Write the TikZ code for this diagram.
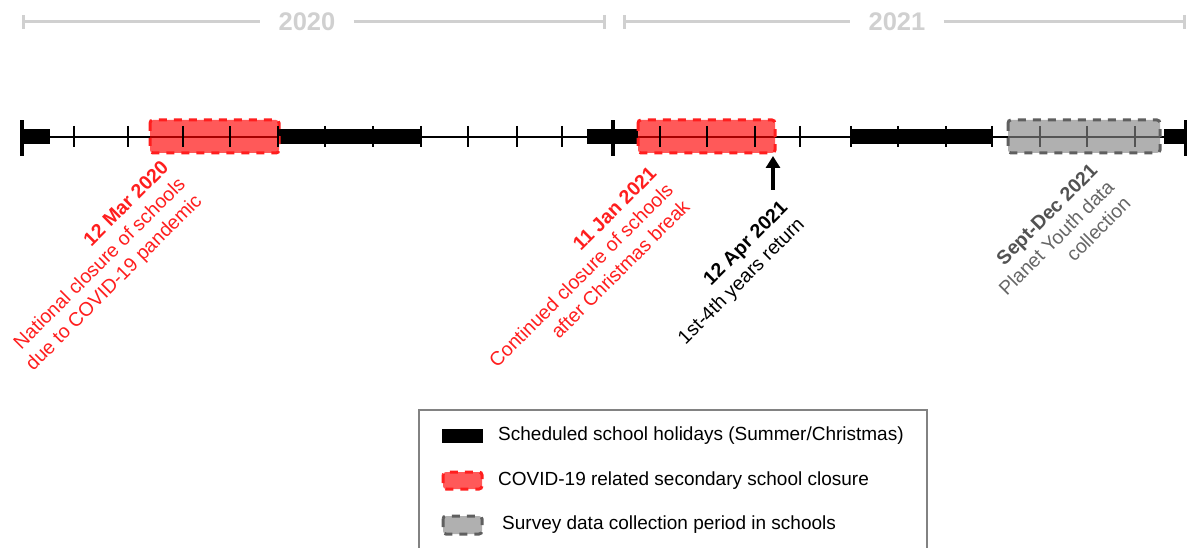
\documentclass[tikz,border=0pt]{standalone}
\usepackage{fontspec}
\setmainfont{Liberation Sans}
\usetikzlibrary{arrows.meta}
\definecolor{closurered}{RGB}{255,30,30}
\definecolor{surveygray}{RGB}{95,95,95}
\definecolor{surveyfill}{RGB}{132,132,132}
\definecolor{yeargray}{RGB}{208,208,208}
\definecolor{framegray}{RGB}{130,130,130}
\begin{document}
\begin{tikzpicture}[
    x=1pt, y=-1pt,
    yearline/.style={draw=yeargray, line width=3pt},
    yearlabel/.style={text=yeargray, font=\fontsize{25.5}{28}\selectfont\bfseries, inner xsep=18pt},
    axis/.style={line width=2.5pt},
    monthtick/.style={line width=2pt},
    yearbar/.style={line width=4pt},
    closure/.style={draw=closurered, line width=3pt, dash pattern=on 8pt off 7pt,
        rounded corners=3pt, fill=red, fill opacity=0.65},
    survey/.style={draw=surveygray, line width=3pt, dash pattern=on 8pt off 7pt,
        rounded corners=3pt, fill=surveyfill, fill opacity=0.64},
    evlabel/.style={rotate=45, anchor=north east, align=right, inner sep=0pt,
        font=\fontsize{19.5}{23.5}\selectfont},
    legendtext/.style={anchor=west, inner sep=0pt, font=\fontsize{19}{22}\selectfont}
    ]
    \useasboundingbox (0,0) rectangle (1187,548);

    % years on top
    \node[yearlabel] (y2020) at (307,22) {2020};
    \node[yearlabel] (y2021) at (897,22) {2021};
    \coordinate (s2020) at (22,22);
    \coordinate (e2020) at (606,22);
    \coordinate (s2021) at (623,22);
    \coordinate (e2021) at (1186,22);
    \draw[yearline, {Bar[width=14pt]}-] (s2020) -- (y2020);
    \draw[yearline, -{Bar[width=14pt]}] (y2020) -- (e2020);
    \draw[yearline, {Bar[width=14pt]}-] (s2021) -- (y2021);
    \draw[yearline, -{Bar[width=14pt]}] (y2021) -- (e2021);

    % timeline
    \coordinate (tstart) at (22,137);
    \coordinate (tmid) at (613,137);
    \coordinate (tend) at (1186,137);
    \draw[axis] (tstart) -- (tend);
    \foreach \a/\b in {22/50, 279/421, 587/638, 850/992, 1164/1187}
        \fill (\a,129) rectangle (\b,144);
    \path[closure] (150,120) rectangle (279,153);
    \path[closure] (638,120) rectangle (775,153);
    \foreach \t in {74,128,183,230,278,325,373,421,468,517,562,
                    660,707,755,800,851,898,946,992,1040,1087,1135}
        \draw[monthtick] (\t,126) -- (\t,147);
    \path[survey] (1008,120) rectangle (1160,153);
    \draw[yearbar] ([yshift=-19pt]tstart) -- ([yshift=17pt]tstart);
    \draw[yearbar] ([yshift=-19pt]tmid) -- ([yshift=17pt]tmid);
    \draw[yearbar] ([yshift=-19pt]tend) -- ([yshift=17pt]tend);

    % events
    \node[evlabel, text=closurered] (lbmar) at (160,159)
        {\textbf{12 Mar 2020}\\National closure of schools\\due to COVID-19 pandemic};
    \node[evlabel, text=closurered] (lbjan) at (648,165)
        {\textbf{11 Jan 2021}\\Continued closure of schools\\after Christmas break};
    \coordinate (aprtip) at (773,156);
    \coordinate (aprfoot) at (773,190);
    \draw[line width=3.5pt, -{Triangle[width=14pt,length=12pt]}] (aprfoot) -- (aprtip);
    \node[evlabel] (lbapr) at (779,199)
        {\textbf{12 Apr 2021}\\1st-4th years return};
    \node[evlabel, text=black!60] (lbsept) at (1089,162)
        {\textcolor{black!68}{\textbf{Sept-Dec 2021}}\\Planet Youth data\\collection};

    % legend
    \draw[draw=framegray, line width=1.2pt] (419,410) rectangle (927,560);
    \fill (442,429) rectangle (483,443);
    \path[closure] (443,472) rectangle (482,489);
    \path[survey] (443,516) rectangle (482,534);
    \node[legendtext] (lghol) at (498,436) {Scheduled school holidays (Summer/Christmas)};
    \node[legendtext] (lgclo) at (498,481) {COVID-19 related secondary school closure};
    \node[legendtext] (lgsur) at (502,525) {Survey data collection period in schools};
\end{tikzpicture}
\end{document}
